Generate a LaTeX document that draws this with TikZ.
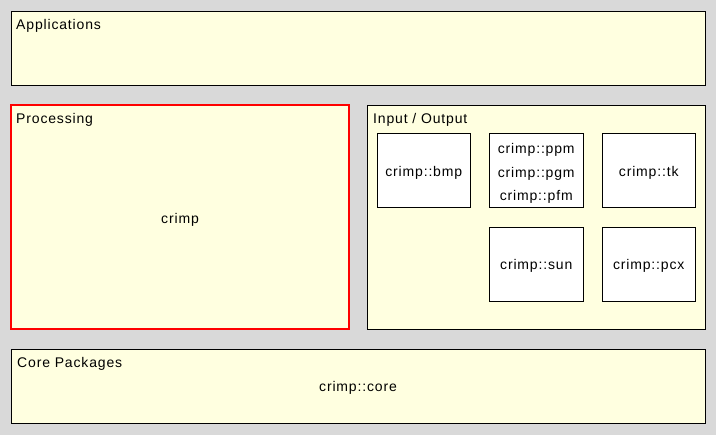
\documentclass[tikz,border=0pt]{standalone}
\usepackage{fontspec}
\setmainfont[LetterSpace=6]{Liberation Sans}
\definecolor{bg}{HTML}{D9D9D9}
\definecolor{pane}{HTML}{FFFFE0}
\begin{document}
\begin{tikzpicture}[x=1pt,y=-1pt,
  pane/.style={draw=black,fill=pane,line width=1pt},
  hot/.style={draw=red,fill=pane,line width=2pt},
  modbox/.style={draw=black,fill=white,line width=1pt},
  lbl/.style={anchor=base west,inner sep=0pt,font=\fontsize{14}{16}\selectfont},
  txt/.style={anchor=base,inner sep=0pt,font=\fontsize{14}{16}\selectfont,align=center}]
\fill[bg] (0,0) rectangle (716,435);
\useasboundingbox (0,0) rectangle (716,435);
% panes
\draw[pane] (11.5,11.5) rectangle (705.5,86) coordinate (appse);
\node[lbl] (app) at (16,30) {Applications};
\draw[hot] (11,105) rectangle (348.5,329.5);
\node[lbl] (proc) at (16,124) {Processing};
\node[txt] (crimp) at (180,224) {crimp};
\draw[pane] (367.5,105.5) rectangle (705.5,330);
\node[lbl] (io) at (373,124) {Input / Output};
\draw[modbox] (377.5,133.5) rectangle (470,208) coordinate (bmpse);
\node[txt] (bmp) at (423.75,177) {crimp::bmp};
\draw[modbox] (489.5,133.5) rectangle (583,208);
\node[txt] (ppm) at (536.25,154) {crimp::ppm};
\node[txt] (pgm) at (536.25,177.5) {crimp::pgm};
\node[txt] (pfm) at (536.25,201) {crimp::pfm};
\draw[modbox] (602.5,133.5) rectangle (695,208);
\node[txt] (tk) at (648.75,177) {crimp::tk};
\draw[modbox] (489.5,227.5) rectangle (583,302);
\node[txt] (sun) at (536.25,270) {crimp::sun};
\draw[modbox] (602.5,227.5) rectangle (695,302);
\node[txt] (pcx) at (648.75,270) {crimp::pcx};
\draw[pane] (11.5,349.5) rectangle (705.5,424);
\node[lbl] (core) at (17,367.5) {Core Packages};
\node[txt] (cc) at (358,392) {crimp::core};
\end{tikzpicture}
\end{document}
